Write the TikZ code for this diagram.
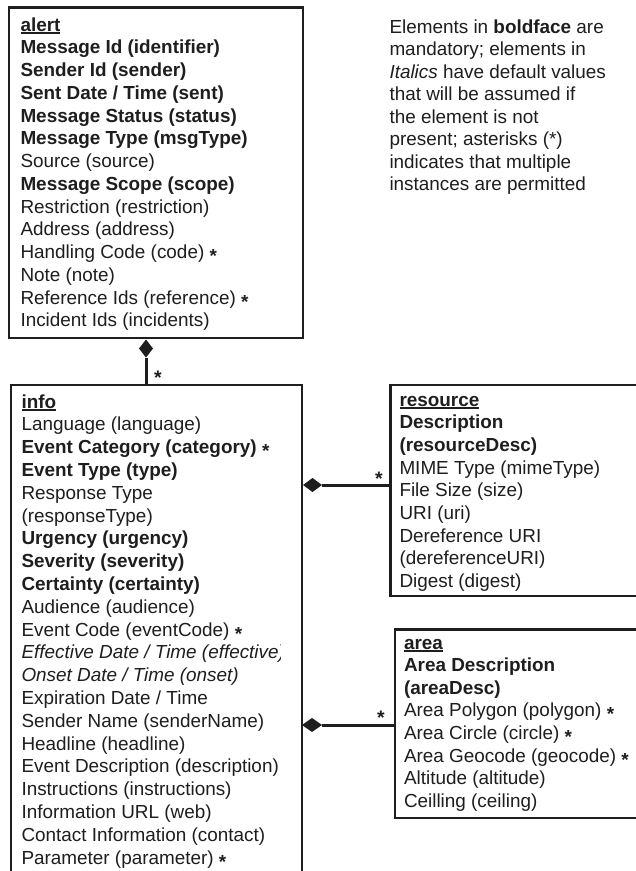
\documentclass[tikz,border=0pt]{standalone}
\usepackage{fontspec}
\setmainfont{Liberation Sans}
\usetikzlibrary{shapes.geometric}
\definecolor{ink}{HTML}{1E1E1E}
\newcommand\ttl[1]{\setbox0\hbox{\bfseries #1}\rlap{\rule[-2.8pt]{\wd0}{1.5pt}}\box0}
\newcommand\mystar{\raisebox{-4pt}{\bfseries *}}
\begin{document}
\begin{tikzpicture}[x=1pt,y=-1pt,
  font=\fontsize{18.9}{22.8}\selectfont, text=ink,
  box/.style={draw=ink, line width=2.4pt, rectangle, inner sep=0pt, outer sep=0pt, anchor=north west},
  ln/.style={anchor=base west, inner sep=0pt, outer sep=0pt},
  conn/.style={draw=ink, line width=3pt},
  dia/.style={diamond, fill=ink, inner sep=0pt, outer sep=0pt},
  mult/.style={anchor=base, inner sep=0pt, font=\fontsize{19.5}{22.8}\selectfont\bfseries}]
\clip (0,0) rectangle (636,871);
\fill[white] (0,0) rectangle (636,871);

% boxes
\node[box, minimum width=294pt, minimum height=330.5pt] (alert) at (9,7.5) {};
\node[box, minimum width=291pt, minimum height=500pt] (info) at (11,385) {};
\node[box, minimum width=260pt, minimum height=211pt] (resource) at (390.5,385) {};
\node[box, minimum width=260pt, minimum height=188.5pt] (area) at (395,629.5) {};

% alert text
\foreach \t [count=\i from 0] in {
  {\ttl{alert}},
  {\textbf{Message Id (identifier)}},
  {\textbf{Sender Id (sender)}},
  {\textbf{Sent Date / Time (sent)}},
  {\textbf{Message Status (status)}},
  {\textbf{Message Type (msgType)}},
  {Source (source)},
  {\textbf{Message Scope (scope)}},
  {Restriction (restriction)},
  {Address (address)},
  {Handling Code (code) \mystar},
  {Note (note)},
  {Reference Ids (reference) \mystar},
  {Incident Ids (incidents)}}
  \node[ln] (al-\i) at (20.5, 31+\i*22.75) {\t};

% info text
\foreach \t [count=\i from 0] in {
  {\ttl{info}},
  {Language (language)},
  {\textbf{Event Category (category)} \mystar},
  {\textbf{Event Type (type)}},
  {Response Type},
  {(responseType)},
  {\textbf{Urgency (urgency)}},
  {\textbf{Severity (severity)}},
  {\textbf{Certainty (certainty)}},
  {Audience (audience)},
  {Event Code (eventCode) \mystar}}
  \node[ln] (in-\i) at (21.5, 408+\i*22.8) {\t};
\begin{scope}
  \clip (0,600) rectangle (280,670);
  \node[ln] (in-11) at (21.5, 408+11*22.8) {\textit{Effective Date / Time (effective)}};
\end{scope}
\foreach \t [count=\i from 12] in {
  {\textit{Onset Date / Time (onset)}},
  {Expiration Date / Time},
  {Sender Name (senderName)},
  {Headline (headline)},
  {Event Description (description)},
  {Instructions (instructions)},
  {Information URL (web)},
  {Contact Information (contact)},
  {Parameter (parameter) \mystar}}
  \node[ln] (in-\i) at (21.5, 408+\i*22.8) {\t};

% resource text
\foreach \t [count=\i from 0] in {
  {\ttl{resource}},
  {\textbf{Description}},
  {\textbf{(resourceDesc)}},
  {MIME Type (mimeType)},
  {File Size (size)},
  {URI (uri)},
  {Dereference URI},
  {(dereferenceURI)},
  {Digest (digest)}}
  \node[ln] (rs-\i) at (399.5, 406+\i*22.7) {\t};

% area text
\foreach \t [count=\i from 0] in {
  {\ttl{area}},
  {\textbf{Area Description}},
  {\textbf{(areaDesc)}},
  {Area Polygon (polygon) \mystar},
  {Area Circle (circle) \mystar},
  {Area Geocode (geocode) \mystar},
  {Altitude (altitude)},
  {Ceilling (ceiling)}}
  \node[ln] (ar-\i) at (404, 649+\i*22.6) {\t};

% note
\foreach \t [count=\i from 0] in {
  {Elements in \textbf{boldface} are},
  {mandatory; elements in},
  {\textit{Italics} have default values},
  {that will be assumed if},
  {the element is not},
  {present; asterisks (*)},
  {indicates that multiple},
  {instances are permitted}}
  \node[ln] (nt-\i) at (389.5, 33.4+\i*22.45) {\t};

% connectors
\node[dia, minimum width=14pt, minimum height=18pt] (dA) at (146,348.5) {};
\draw[conn] (dA.south) -- (dA.south |- info.north);
\node[mult] (sA) at (158,384) {*};

\node[dia, minimum width=19pt, minimum height=14pt] (dR) at (312.5,485) {};
\draw[conn] (dR.east) -- (dR.east -| resource.west);
\node[mult] (sR) at (379,485) {*};

\node[dia, minimum width=20pt, minimum height=14pt] (dAr) at (312,725) {};
\draw[conn] (dAr.east) -- (dAr.east -| area.west);
\node[mult] (sAr) at (381,724) {*};
\end{tikzpicture}
\end{document}
